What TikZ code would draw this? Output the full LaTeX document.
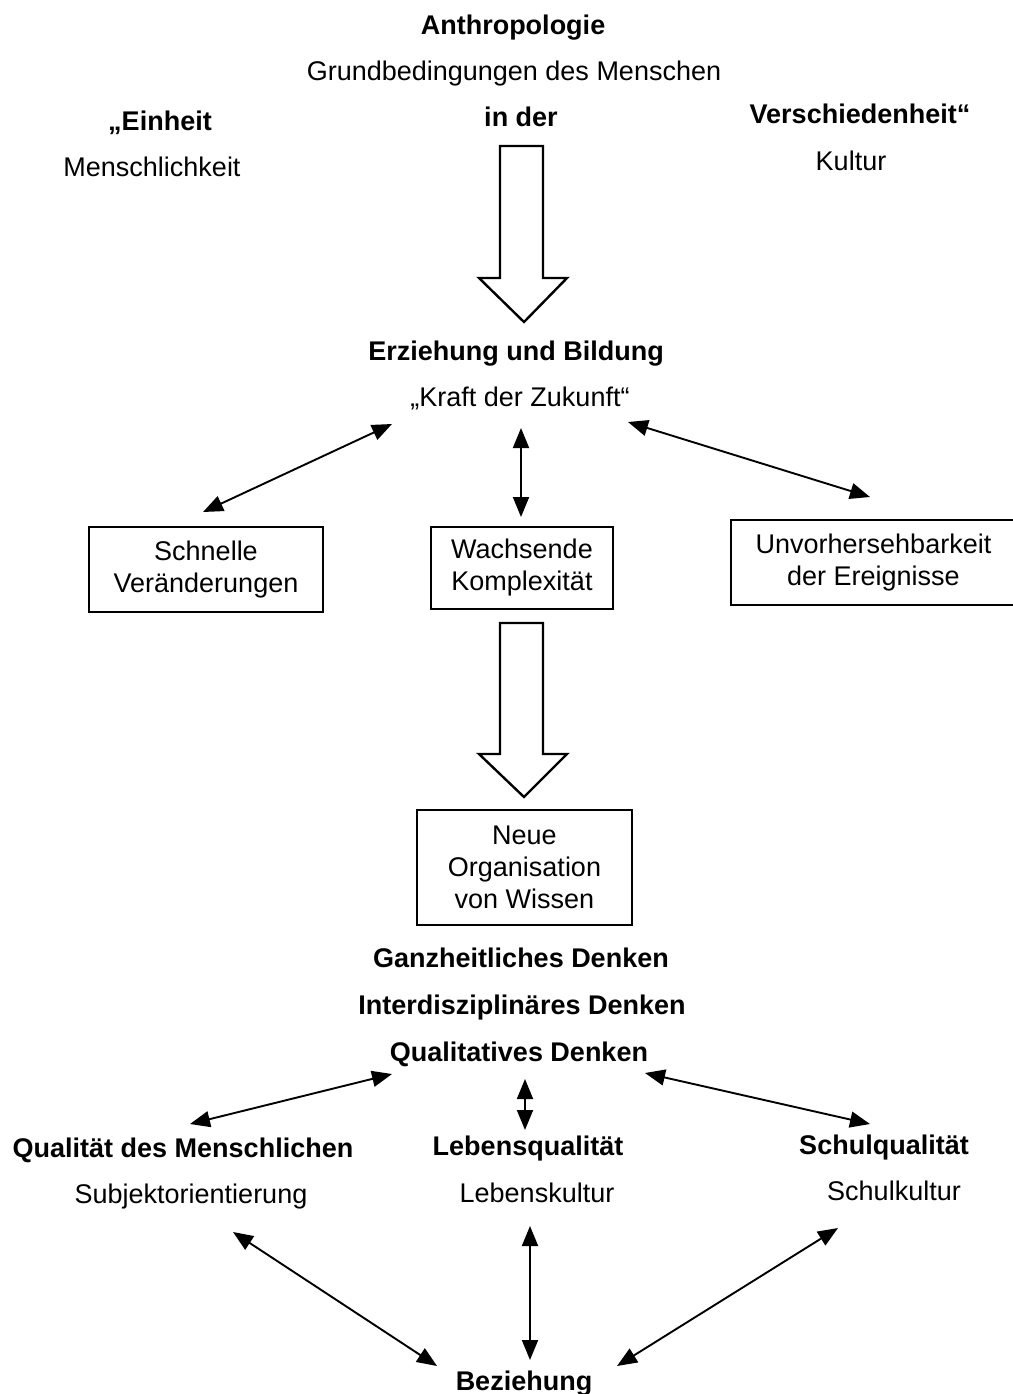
\documentclass[tikz,border=0pt]{standalone}
\usepackage{fontspec}
\setmainfont{Liberation Sans}
\usetikzlibrary{arrows.meta}
\begin{document}
\begin{tikzpicture}[x=0.5pt,y=-0.5pt,
  lbl/.style={font=\fontsize{13.5}{16}\selectfont, inner sep=0pt, text height=9.7pt, text depth=0pt},
  hd/.style={lbl, font=\fontsize{13.5}{16}\selectfont\bfseries},
  box/.style={draw, line width=0.9pt, align=center, inner sep=0pt,
    font=\fontsize{13.5}{16}\selectfont},
  dbl/.style={line width=0.95pt,
    {Triangle[length=10pt,width=8pt]}-{Triangle[length=10pt,width=8pt]}},
  blockarrow/.style={draw, line width=1.2pt, line join=miter, fill=white}]
\useasboundingbox (0,0) rectangle (1013,1394);

% header
\node[hd]  (anth)  at (513,25)  {Anthropologie};
\node[lbl] (grund) at (514,71)  {Grundbedingungen des Menschen};
\node[hd]  (einh)  at (160,121) {„Einheit};
\node[hd]  (inder) at (521,117) {in der};
\node[hd]  (versch) at (860,114) {Verschiedenheit“};
\node[lbl] (mensch) at (152,167) {Menschlichkeit};
\node[lbl] (kult)  at (851,161) {Kultur};

% first block arrow
\draw[blockarrow] (500,146) -- (543,146) -- (543,278) -- (567,278) -- (524,322)
  -- (479,278) -- (500,278) -- cycle;

% education
\node[hd]  (erz)   at (516,351) {Erziehung und Bildung};
\node[lbl] (kraft) at (520,397) {„Kraft der Zukunft“};

% three challenges
\node[box, minimum width=117pt, minimum height=42.5pt] (schnell) at (206,569.5)
  {Schnelle\\Veränderungen};
\node[box, minimum width=91pt, minimum height=41pt] (wachs) at (522,568)
  {Wachsende\\Komplexität};
\node[box, minimum width=142.5pt, minimum height=42.5pt] (unvor) at (873.5,562.5)
  {Unvorhersehbarkeit\\der Ereignisse};

\coordinate (k1) at (392,424); \coordinate (s1) at (203,512);
\coordinate (k2) at (521,428); \coordinate (w1) at (521,517);
\coordinate (k3) at (628,422); \coordinate (u1) at (870,497);
\draw[dbl] (k1) -- (s1);
\draw[dbl] (k2) -- (w1);
\draw[dbl] (k3) -- (u1);

% second block arrow
\draw[blockarrow] (500,623) -- (543,623) -- (543,754) -- (567,754) -- (524,797)
  -- (479,754) -- (500,754) -- cycle;

\node[box, minimum width=107.5pt, minimum height=57.5pt] (neue) at (524.5,867.5)
  {Neue\\Organisation\\von Wissen};

% ways of thinking
\node[hd] (ganz)  at (521,958)  {Ganzheitliches Denken};
\node[hd] (inter) at (522,1005) {Interdisziplinäres Denken};
\node[hd] (qual)  at (519,1052) {Qualitatives Denken};

% qualities
\node[hd]  (qmensch) at (183,1148) {Qualität des Menschlichen};
\node[hd]  (lebq)    at (528,1146) {Lebensqualität};
\node[hd]  (schulq)  at (884,1145) {Schulqualität};
\node[lbl] (subj)    at (191,1194) {Subjektorientierung};
\node[lbl] (lebk)    at (537,1193) {Lebenskultur};
\node[lbl] (schulk)  at (894,1191) {Schulkultur};

\coordinate (q1) at (392,1074); \coordinate (m1) at (190,1124);
\coordinate (q2) at (525,1079); \coordinate (l1) at (525,1130);
\coordinate (q3) at (645,1073); \coordinate (sq1) at (870,1124);
\draw[dbl] (q1) -- (m1);
\draw[dbl] (q2) -- (l1);
\draw[dbl] (q3) -- (sq1);

% relation
\node[hd] (bez) at (524,1381) {Beziehung};
\coordinate (sb) at (233,1232); \coordinate (b1) at (437,1366);
\coordinate (lb) at (530,1226); \coordinate (b2) at (530,1360);
\coordinate (kb) at (838,1228); \coordinate (b3) at (617,1366);
\draw[dbl] (sb) -- (b1);
\draw[dbl] (lb) -- (b2);
\draw[dbl] (kb) -- (b3);
\end{tikzpicture}
\end{document}
